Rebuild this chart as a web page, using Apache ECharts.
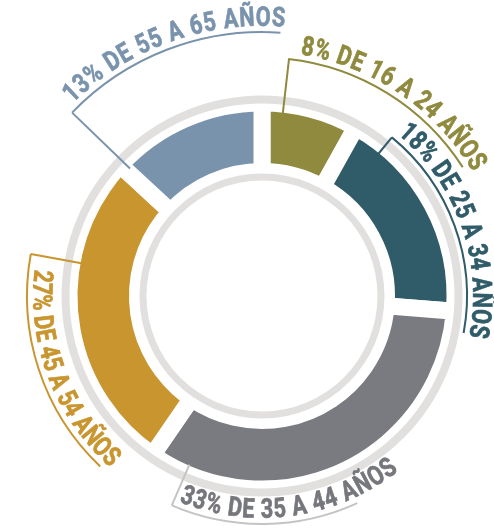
<!DOCTYPE html>
<html><head><meta charset="utf-8">
<script src="https://cdn.jsdelivr.net/npm/echarts@6/dist/echarts.min.js"></script>
<style>html,body{margin:0;padding:0;background:#fff}#c{width:494px;height:532px}</style>
</head><body><div id="c"></div>
<script>
// ---- data ----
const ageRanges = ['16 A 24', '25 A 34', '35 A 44', '45 A 54', '55 A 65'];
const shares = [8, 18, 33, 27, 13];
const unitWord = 'AÑOS';

// ---- styles ----
const segColors = ['#8F8A3D', '#305B69', '#7A7B80', '#C8952F', '#7A93AD'];
const textColors = ['#8F8A3D', '#305B69', '#76777C', '#C8952F', '#7A93AD'];
const bracketColors = ['#8F8A3D', '#305B69', '#C4C4C4', '#C8952F', '#7A93AD'];
const ringColor = '#E1E0DF';

// ---- geometry (px, degrees clockwise from 12 o'clock) ----
const CX = 262, CY = 296;
const SEG_R0 = 133, SEG_R1 = 184.5, GAP = 17;
const labelLayout = [
  {tick: 6.5,  arcR: 238.5, arcFrom: 6.3,   arcTo: 57.3,  textR: 251.5, textFrom: 9,     textTo: 59.5,  side: 'out'},
  {tick: 39.3, arcR: 205,   arcFrom: 39.3,  arcTo: 100.4, textR: 218,   textFrom: 40,    textTo: 101,   side: 'out'},
  {tick: 203.3,arcR: 228,   arcFrom: 155.3, arcTo: 203.3, textR: 215,   textFrom: 202,   textTo: 142,   side: 'in'},
  {tick: 280.3,arcR: 235,   arcFrom: 223.5, arcTo: 280.3, textR: 222,   textFrom: 276.7, textTo: 221.4, side: 'in'},
  {tick: -46,  arcR: 264,   arcFrom: -46,   arcTo: 4,     textR: 277,   textFrom: -44.5, textTo: 4.8,   side: 'out'}
];
const FONT_SIZE = 27, FONT_FAMILY = 'Roboto', SCALE_X = 0.8;

const rad = d => d * Math.PI / 180;
const pt = (r, deg) => [CX + r * Math.sin(rad(deg)), CY - r * Math.cos(rad(deg))];

const ctx = document.createElement('canvas').getContext('2d');
const font = 'bold ' + FONT_SIZE + 'px ' + FONT_FAMILY;
ctx.font = font;

const graphics = [];
shares.forEach((v, i) => {
  const L = labelLayout[i];
  const text = v + '% DE ' + ageRanges[i] + ' ' + unitWord;
  // bracket tick
  const p0 = pt(SEG_R1 - 1, L.tick), p1 = pt(L.arcR, L.tick);
  graphics.push({type: 'line', z: 100, silent: true,
    shape: {x1: p0[0], y1: p0[1], x2: p1[0], y2: p1[1]},
    style: {stroke: bracketColors[i], lineWidth: 2}});
  graphics.push({type: 'arc', z: 100, silent: true,
    shape: {cx: CX, cy: CY, r: L.arcR, startAngle: rad(L.arcFrom - 90), endAngle: rad(L.arcTo - 90), clockwise: true},
    style: {stroke: bracketColors[i], lineWidth: 2, fill: null}});
  // curved text
  const chars = Array.from(text);
  const widths = chars.map(c => ctx.measureText(c).width * SCALE_X);
  const total = widths.reduce((a, b) => a + b, 0);
  const arcLen = Math.abs(rad(L.textTo - L.textFrom)) * L.textR;
  const extra = (arcLen - total) / (chars.length - 1);
  const dir = L.textTo > L.textFrom ? 1 : -1;
  let s = 0;
  chars.forEach((c, k) => {
    const mid = s + widths[k] / 2;
    s += widths[k] + extra;
    if (c === ' ') return;
    const ang = L.textFrom + dir * (mid / L.textR) * 180 / Math.PI;
    const p = pt(L.textR, ang);
    const rot = L.side === 'out' ? -rad(ang) : Math.PI - rad(ang);
    graphics.push({type: 'text', z: 100, silent: true, x: p[0], y: p[1], rotation: rot, scaleX: SCALE_X,
      style: {text: c, font: font, fill: textColors[i], stroke: textColors[i], lineWidth: 0.7,
        align: 'center', verticalAlign: 'middle'}});
  });
});

const chart = echarts.init(document.getElementById('c'), null, {renderer: 'canvas'});
chart.setOption({
  animation: false,
  series: [
    {type: 'pie', center: [CX, CY], radius: [SEG_R0 - GAP / 2, SEG_R1 + GAP / 2], startAngle: 90, clockwise: true,
      silent: true, label: {show: false}, labelLine: {show: false}, z: 2,
      itemStyle: {borderColor: '#fff', borderWidth: GAP, borderJoin: 'miter', borderMiterLimit: 20},
      data: shares.map((v, i) => ({value: v, name: ageRanges[i], itemStyle: {color: segColors[i]}}))},
    {type: 'pie', center: [CX, CY], radius: [192.5, 200.5], silent: true, z: 3,
      label: {show: false}, labelLine: {show: false}, itemStyle: {color: ringColor}, data: [{value: 1}]},
    {type: 'pie', center: [CX, CY], radius: [115.5, 122.5], silent: true, z: 3,
      label: {show: false}, labelLine: {show: false}, itemStyle: {color: ringColor}, data: [{value: 1}]}
  ],
  graphic: graphics
});
</script></body></html>
